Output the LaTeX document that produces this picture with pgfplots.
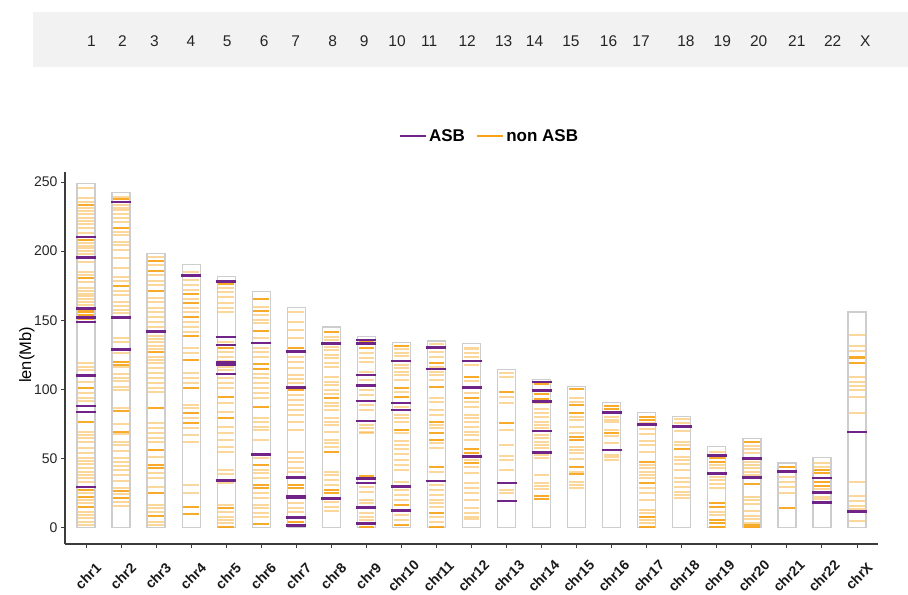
\documentclass[border=0pt]{standalone}
\usepackage{fontspec}
\setmainfont{Liberation Sans}
\usepackage{pgfplots}
\usepackage{pgfplotstable}
\pgfplotsset{compat=1.18}
\definecolor{asb}{RGB}{112,36,136}
\definecolor{nonasb}{RGB}{248,162,20}
\definecolor{stripbg}{RGB}{242,242,242}
\definecolor{chrline}{RGB}{205,205,205}
\definecolor{axline}{RGB}{60,60,60}

% chromosome lengths (Mb)
\pgfplotstableread[row sep=\\]{
x len\\
0 248.96\\ 1 242.19\\ 2 198.30\\ 3 190.21\\ 4 181.54\\ 5 170.81\\ 6 159.35\\ 7 145.14\\
8 138.39\\ 9 133.80\\ 10 135.09\\ 11 133.28\\ 12 114.36\\ 13 107.04\\ 14 101.99\\ 15 90.34\\
16 83.26\\ 17 80.37\\ 18 58.62\\ 19 64.44\\ 20 46.71\\ 21 50.82\\ 22 156.04\\
}\chrlen

% ASB positions (Mb)
\pgfplotstableread[row sep=\\]{
x y\\
0 210.2\\ 0 195.5\\ 0 158.4\\ 0 152.1\\ 0 148.7\\ 0 109.9\\ 0 88.0\\ 0 83.7\\ 0 29.4\\
1 235.5\\ 1 151.9\\ 1 128.7\\
2 141.7\\
3 182.5\\
4 178.1\\ 4 137.9\\ 4 132.1\\ 4 119.3\\ 4 118.0\\ 4 111.1\\ 4 34.0\\
5 133.5\\ 5 53.0\\
6 127.5\\ 6 101.2\\ 6 36.4\\ 6 22.9\\ 6 22.0\\ 6 7.3\\ 6 1.5\\
7 133.3\\ 7 21.2\\
8 135.7\\ 8 133.3\\ 8 110.4\\ 8 102.7\\ 8 91.6\\ 8 77.1\\ 8 35.7\\ 8 32.3\\ 8 14.7\\ 8 3.1\\
9 120.5\\ 9 90.1\\ 9 85.1\\ 9 29.6\\ 9 12.3\\
10 130.4\\ 10 114.7\\ 10 33.7\\
11 120.5\\ 11 101.2\\ 11 51.3\\
12 32.3\\ 12 19.3\\
13 105.3\\ 13 99.3\\ 13 91.3\\ 13 69.9\\ 13 54.5\\
15 83.2\\ 15 56.2\\
16 74.5\\
17 73.0\\
18 52.3\\ 18 39.3\\
19 50.1\\ 19 36.4\\
20 40.5\\
21 35.9\\ 21 25.3\\ 21 18.1\\
22 69.2\\ 22 11.6\\
}\asbdata

% non-ASB, strong
\pgfplotstableread[row sep=\\]{
x y\\
0 233.3\\ 0 208\\ 0 180.3\\ 0 157.4\\ 0 155.7\\ 0 153.8\\ 0 150.9\\ 0 100.8\\ 0 76.7\\ 0 27.3\\ 0 22.4\\ 0 15.2\\
1 237.6\\ 1 216.4\\ 1 175\\ 1 119.6\\ 1 117.6\\ 1 84.4\\ 1 69.4\\ 1 26.5\\ 1 21.2\\
2 192.8\\ 2 185.6\\ 2 171.1\\ 2 126.8\\ 2 86.3\\ 2 56.2\\ 2 45.3\\ 2 42.9\\ 2 24.8\\ 2 8.7\\
3 168.7\\ 3 162.2\\ 3 152.6\\ 3 138.8\\ 3 121.2\\ 3 100.8\\ 3 82.7\\ 3 75.5\\ 3 15.2\\ 3 9.7\\
4 176.4\\ 4 129.7\\ 4 94.7\\ 4 79.1\\ 4 14\\ 4 0.5\\
5 165.1\\ 5 156.7\\ 5 142.2\\ 5 118.1\\ 5 114.7\\ 5 87.5\\ 5 45.3\\ 5 30.9\\ 5 28.5\\ 5 2.4\\
6 129.7\\ 6 99.6\\ 6 30.9\\ 6 28.5\\ 6 3.9\\
7 141.7\\ 7 93.5\\ 7 54.9\\ 7 27.2\\ 7 24.8\\
8 134.5\\ 8 129.7\\ 8 37.4\\ 8 0.5\\
9 131.3\\ 9 100.7\\ 9 94.7\\ 9 70.6\\ 9 16.4\\ 9 1.9\\
10 118.8\\ 10 101.5\\ 10 76.6\\ 10 68.2\\ 10 63.4\\ 10 44.1\\ 10 10.8\\ 10 0.7\\
11 108.7\\ 11 93.5\\ 11 56.6\\ 11 53.7\\ 11 46.5\\
12 98.3\\ 12 75.9\\
13 103.9\\ 13 96.6\\ 13 92.8\\ 13 22.9\\ 13 20.5\\
14 100\\ 14 88.7\\ 14 82.7\\ 14 65.8\\ 14 63.4\\ 14 44.1\\ 14 38.8\\
15 88\\ 15 85.6\\ 15 68.2\\
16 79.8\\ 16 77.9\\ 16 47.7\\ 16 32.1\\ 16 8\\ 16 0.7\\
17 56.6\\
18 50.1\\ 18 47.7\\ 18 17.6\\ 18 15.2\\ 18 5.5\\ 18 3.1\\ 18 0.7\\
19 62.2\\ 19 31.6\\ 19 2.0\\ 19 0.7\\
20 44.1\\ 20 14\\
21 41.7\\ 21 39.3\\ 21 33.3\\ 21 30.1\\
22 123.1\\ 22 119.3\\
}\nonasbdark

% non-ASB, faint
\pgfplotstableread[row sep=\\]{
x y\\
0 245.4\\ 0 238.1\\ 0 235.7\\ 0 230.9\\ 0 229\\ 0 226.6\\ 0 224.2\\ 0 221.7\\ 0 219.3\\ 0 216.9\\ 0 212.8\\ 0 206\\ 0 203.9\\ 0 202\\ 0 200\\ 0 198.1\\ 0 191.9\\ 0 184.6\\ 0 182.7\\ 0 177.4\\ 0 173.1\\ 0 171.1\\ 0 169.2\\ 0 167.3\\ 0 165.3\\ 0 163.4\\ 0 161\\ 0 118.8\\ 0 116.4\\ 0 114\\ 0 105.6\\ 0 97.1\\ 0 94\\ 0 91.6\\ 0 69.4\\ 0 67\\ 0 64.6\\ 0 62.2\\ 0 57.4\\ 0 53.8\\ 0 50.6\\ 0 48.2\\ 0 45.8\\ 0 42.9\\ 0 40.5\\ 0 38.1\\ 0 35.7\\ 0 33.3\\ 0 24.8\\ 0 20\\ 0 17.6\\ 0 11.6\\ 0 9.2\\ 0 6.8\\ 0 4.4\\ 0 2\\
1 239.3\\ 1 233.3\\ 1 231.4\\ 1 229.5\\ 1 226.6\\ 1 223.7\\ 1 221.3\\ 1 214\\ 1 211.6\\ 1 206.8\\ 1 204.4\\ 1 200.8\\ 1 195.2\\ 1 187.5\\ 1 181.5\\ 1 178.4\\ 1 171.1\\ 1 168.2\\ 1 163.4\\ 1 160.5\\ 1 157.4\\ 1 155\\ 1 136.9\\ 1 134.5\\ 1 126.1\\ 1 116.4\\ 1 110.9\\ 1 108.5\\ 1 106.1\\ 1 102\\ 1 99.6\\ 1 86.3\\ 1 74.7\\ 1 67.5\\ 1 62.2\\ 1 59.8\\ 1 55.5\\ 1 50.6\\ 1 47.7\\ 1 44.8\\ 1 41.7\\ 1 38.1\\ 1 33.8\\ 1 28.5\\ 1 24.1\\ 1 18.8\\ 1 15.9\\
2 196\\ 2 189.9\\ 2 182.7\\ 2 178.4\\ 2 175.5\\ 2 165.8\\ 2 162.9\\ 2 159.1\\ 2 156.2\\ 2 152.6\\ 2 149\\ 2 145.3\\ 2 138.8\\ 2 136.4\\ 2 134\\ 2 131.6\\ 2 129.2\\ 2 123.7\\ 2 121.2\\ 2 118.8\\ 2 115.2\\ 2 111.6\\ 2 108\\ 2 104.4\\ 2 100.8\\ 2 97.9\\ 2 75.5\\ 2 71.8\\ 2 68.2\\ 2 64.6\\ 2 62.2\\ 2 51.4\\ 2 39.3\\ 2 35.7\\ 2 29.7\\ 2 16.4\\ 2 14\\ 2 11.6\\ 2 4.4\\ 2 2\\
3 184.6\\ 3 179.1\\ 3 175.5\\ 3 171.9\\ 3 165.3\\ 3 159.1\\ 3 156.2\\ 3 149\\ 3 145.3\\ 3 141.7\\ 3 129.7\\ 3 126.1\\ 3 111.6\\ 3 108\\ 3 104.4\\ 3 88.7\\ 3 86.3\\ 3 79.1\\ 3 72.3\\ 3 67\\ 3 62.2\\ 3 30.9\\ 3 24.8\\
4 173.1\\ 4 170.2\\ 4 167\\ 4 162.2\\ 4 159.1\\ 4 156.2\\ 4 134.5\\ 4 127.3\\ 4 123.7\\ 4 120.5\\ 4 116.4\\ 4 114\\ 4 108\\ 4 104.4\\ 4 101.2\\ 4 89.9\\ 4 83.9\\ 4 73\\ 4 68.2\\ 4 63.4\\ 4 58.6\\ 4 54.5\\ 4 41.7\\ 4 38.6\\ 4 32.1\\ 4 16.4\\ 4 11.1\\ 4 8\\ 4 5.6\\ 4 3.2\\
5 159.8\\ 5 153.8\\ 5 150.2\\ 5 147.8\\ 5 136.9\\ 5 129.7\\ 5 127.3\\ 5 123.7\\ 5 110.9\\ 5 108\\ 5 104.4\\ 5 100.8\\ 5 97.1\\ 5 94\\ 5 79.1\\ 5 76.7\\ 5 73\\ 5 70.6\\ 5 63.4\\ 5 50.2\\ 5 41.7\\ 5 39.3\\ 5 35.7\\ 5 24.8\\ 5 21.2\\ 5 16.4\\ 5 14\\ 5 10.4\\ 5 8\\
6 156.2\\ 6 149\\ 6 143\\ 6 136.9\\ 6 123.7\\ 6 120\\ 6 115.7\\ 6 110.4\\ 6 107.5\\ 6 104.4\\ 6 95.9\\ 6 92.3\\ 6 88.7\\ 6 85.1\\ 6 81.5\\ 6 76.7\\ 6 70.6\\ 6 55\\ 6 50.6\\ 6 47.3\\ 6 42.9\\ 6 40.5\\ 6 17.6\\ 6 14\\ 6 11.6\\
7 138.1\\ 7 135.7\\ 7 130.9\\ 7 128.4\\ 7 124.8\\ 7 122.4\\ 7 118.8\\ 7 116.4\\ 7 109.2\\ 7 105.6\\ 7 103.1\\ 7 99.5\\ 7 96.6\\ 7 90.4\\ 7 88\\ 7 85.1\\ 7 79\\ 7 76.6\\ 7 74.2\\ 7 69.4\\ 7 63.4\\ 7 61\\ 7 58.6\\ 7 40.5\\ 7 38.1\\ 7 34.5\\ 7 30.9\\ 7 18.8\\ 7 15.2\\ 7 12.3\\
8 126\\ 8 122.4\\ 8 120\\ 8 112.8\\ 8 106.8\\ 8 99.5\\ 8 95.9\\ 8 88.7\\ 8 85.1\\ 8 74.2\\ 8 71.8\\ 8 69.4\\ 8 68.2\\ 8 29.6\\ 8 26\\ 8 20\\ 8 17.6\\ 8 10.4\\ 8 8\\ 8 5.5\\
9 128.9\\ 9 126.5\\ 9 124.1\\ 9 117.6\\ 9 115.2\\ 9 112.8\\ 9 110.4\\ 9 106.8\\ 9 98.3\\ 9 87.5\\ 9 81.5\\ 9 79\\ 9 76.6\\ 9 68.2\\ 9 62.9\\ 9 59.8\\ 9 56.6\\ 9 53.3\\ 9 48.9\\ 9 45.3\\ 9 41.7\\ 9 33.3\\ 9 27.2\\ 9 23.6\\ 9 20\\ 9 9.2\\ 9 5.5\\
10 132.8\\ 10 127.2\\ 10 123.6\\ 10 116.4\\ 10 112.8\\ 10 110.4\\ 10 106.8\\ 10 93.5\\ 10 91.1\\ 10 85.1\\ 10 81.5\\ 10 74.2\\ 10 71.8\\ 10 61\\ 10 57.4\\ 10 40.5\\ 10 30.9\\ 10 27.2\\ 10 23.6\\ 10 20\\ 10 17.6\\ 10 15.2\\ 10 7.9\\ 10 4.3\\
11 129.6\\ 11 126.5\\ 11 123.6\\ 11 117.6\\ 11 106.3\\ 11 97.1\\ 11 91.1\\ 11 87.5\\ 11 81.5\\ 11 79\\ 11 76.6\\ 11 73\\ 11 69.4\\ 11 67\\ 11 63.4\\ 11 48.9\\ 11 44.1\\ 11 39.8\\ 11 32.1\\ 11 28.4\\ 11 25.3\\ 11 20\\ 11 14\\ 11 10.4\\ 11 8\\ 11 6\\
12 112.1\\ 12 108.7\\ 12 94.7\\ 12 90.4\\ 12 70.6\\ 12 59.8\\ 12 51.8\\ 12 48.9\\ 12 41.7\\ 12 27.2\\ 12 24.8\\
13 89.9\\ 13 85.6\\ 13 83.2\\ 13 80.3\\ 13 76.6\\ 13 74.2\\ 13 71.8\\ 13 67\\ 13 64.6\\ 13 62.2\\ 13 59.8\\ 13 57.4\\ 13 52.5\\ 13 50.1\\ 13 38.1\\ 13 32.5\\ 13 30.1\\ 13 27.7\\
14 93.5\\ 14 91.1\\ 14 80.3\\ 14 77.9\\ 14 73\\ 14 68.2\\ 14 58.6\\ 14 56.2\\ 14 53.7\\ 14 49.4\\ 14 40.5\\ 14 33.3\\ 14 30.9\\ 14 28.4\\
15 80.3\\ 15 77.9\\ 15 76.6\\ 15 70.6\\ 15 66.3\\ 15 61.5\\ 15 52.5\\ 15 50.9\\ 15 48.9\\
16 75.9\\ 16 71.1\\ 16 67.7\\ 16 62.9\\ 16 59.8\\ 16 55\\ 16 45.3\\ 16 42.9\\ 16 40.5\\ 16 38.1\\ 16 35.7\\ 16 28.4\\ 16 25.3\\ 16 20\\ 16 12.8\\ 16 10.4\\ 16 5.5\\ 16 3.1\\
17 78.3\\ 17 75.9\\ 17 70.1\\ 17 62.2\\ 17 59.8\\ 17 51.3\\ 17 48.9\\ 17 46\\ 17 41.7\\ 17 35.7\\ 17 33.3\\ 17 29.6\\ 17 26\\ 17 23.6\\ 17 21.2\\
18 55\\ 18 45.3\\ 18 42.9\\ 18 36.9\\ 18 34.5\\ 18 31.6\\ 18 28.4\\ 18 11.6\\ 18 9.2\\
19 59\\ 19 56.6\\ 19 53.7\\ 19 47.7\\ 19 45.3\\ 19 42.9\\ 19 40.5\\ 19 38.1\\ 19 22.4\\ 19 20\\ 19 17.1\\ 19 12.3\\ 19 8.4\\ 19 6\\ 19 3.6\\
20 36.4\\ 20 33.3\\ 20 29.2\\ 20 24.8\\
21 47\\ 21 44.1\\ 21 27.7\\ 21 22.4\\ 21 20.5\\
22 139.3\\ 22 131.3\\ 22 128\\ 22 109.2\\ 22 105.6\\ 22 102.4\\ 22 99.5\\ 22 94.2\\ 22 82.7\\ 22 33\\ 22 22.9\\ 22 19.5\\ 22 15.7\\ 22 13.3\\ 22 5.1\\
}\nonasblight

\begin{document}
\begin{tikzpicture}
\fill[white] (0,0) rectangle (908bp,-595bp);
\useasboundingbox (0,0) rectangle (908bp,-595bp);
% top strip
\fill[stripbg] (33bp,-12bp) rectangle (908bp,-67bp);
\foreach \px/\lab in {91.5/1,122.5/2,154.4/3,190.9/4,227.3/5,264.3/6,295.7/7,332.7/8,364.1/9,397.1/10,429.1/11,467.2/12,503.7/13,534.5/14,570.9/15,608.5/16,641/17,685.9/18,722.3/19,758.7/20,796.8/21,832.7/22,865.2/X}
  \node[font=\fontsize{15.5bp}{17bp}\selectfont, text=black!85, inner sep=0pt] at (\px bp,-41bp) {\lab};

\begin{axis}[
  at={(65bp,-544bp)}, anchor=south west,
  scale only axis, width=813bp, height=372bp,
  xmin=-0.6, xmax=22.6, ymin=-11.8, ymax=257.2,
  axis x line*=bottom, axis y line*=left,
  axis line style={axline, line width=1.1bp},
  xtick={0,...,22},
  xticklabels={chr1,chr2,chr3,chr4,chr5,chr6,chr7,chr8,chr9,chr10,chr11,chr12,chr13,chr14,chr15,chr16,chr17,chr18,chr19,chr20,chr21,chr22,chrX},
  ytick={0,50,100,150,200,250},
  tick align=outside, major tick length=4bp,
  tick style={axline, line width=0.9bp},
  /pgf/number format/assume math mode=true,
  yticklabel style={font=\fontsize{14bp}{16bp}\selectfont, text=black!85, anchor=east},
  xticklabel style={font=\bfseries\fontsize{14bp}{16bp}\selectfont, text=black!90, yshift=-28bp, xshift=2bp, rotate=45, anchor=center, inner sep=0pt},
  ylabel={len(Mb)},
  ylabel style={font=\fontsize{16.5bp}{18bp}\selectfont, at={(axis description cs:-0.047,0.508)}, anchor=center},
  clip=false,
  legend style={at={(axis description cs:0.522,1.097)}, anchor=center, draw=none, fill=none,
    legend columns=2, font=\bfseries\fontsize{17bp}{19bp}\selectfont,
    /tikz/every even column/.append style={column sep=9bp}},
  legend image code/.code={\draw[#1, line width=2.4bp] (0bp,0bp) -- (26bp,0bp);},
]
\addplot[ybar, bar width=18bp, fill=white, draw=chrline, line width=1.3bp, forget plot] table[x=x,y=len]{\chrlen};
\addplot[only marks, mark=-, mark size=7.8bp, mark options={solid, line width=2.1bp, draw=nonasb, opacity=0.42}, forget plot] table[x=x,y=y]{\nonasblight};
\addplot[only marks, mark=-, mark size=7.8bp, mark options={solid, line width=2.1bp, draw=nonasb, opacity=0.9}, forget plot] table[x=x,y=y]{\nonasbdark};
\addplot[only marks, mark=-, mark size=10bp, mark options={solid, line width=2.6bp, draw=asb}, forget plot] table[x=x,y=y]{\asbdata};
\addlegendimage{asb}
\addlegendentry{ASB}
\addlegendimage{nonasb}
\addlegendentry{non ASB}
\end{axis}
\end{tikzpicture}
\end{document}
